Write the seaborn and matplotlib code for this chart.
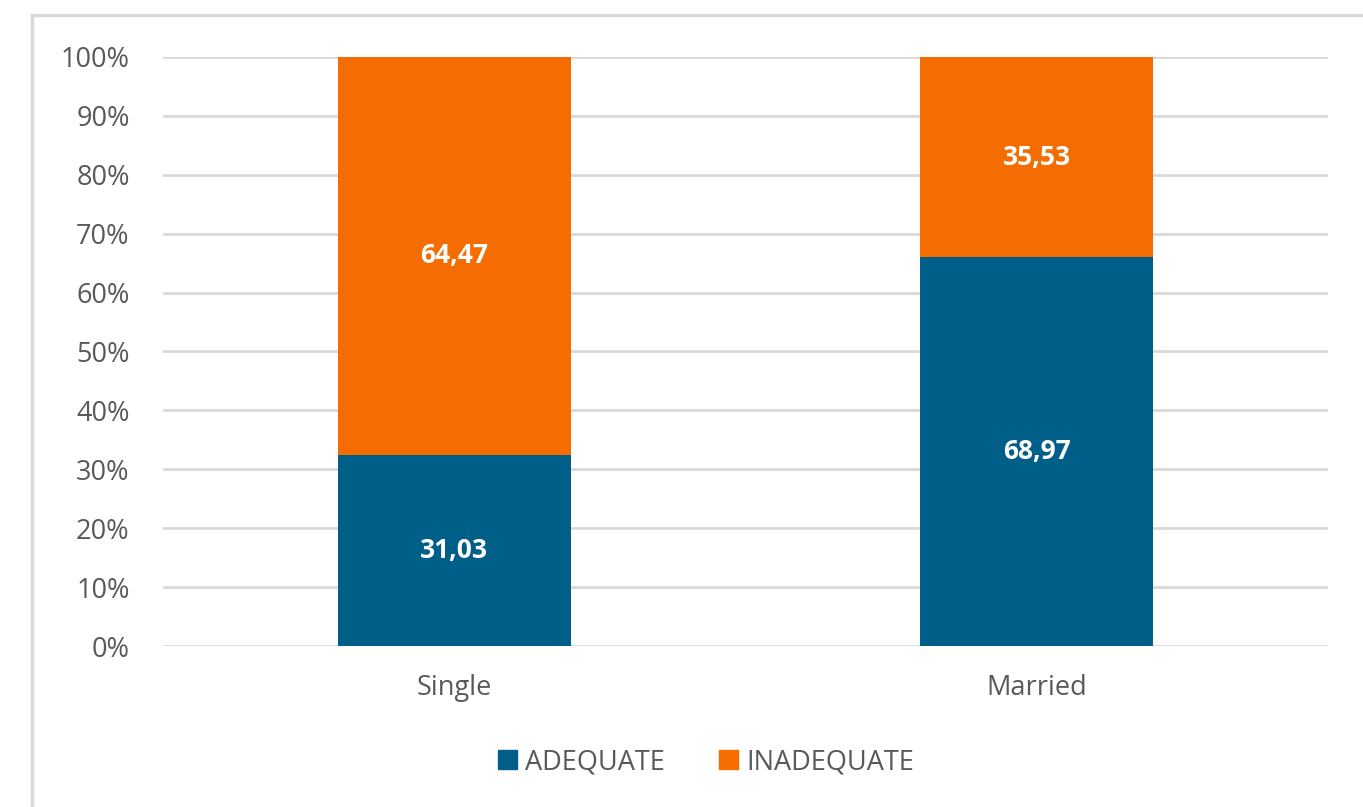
import matplotlib
matplotlib.use("Agg")
import matplotlib.pyplot as plt
import matplotlib.patches as mpatches
import pandas as pd
import seaborn as sns

# data (raw values, shown as 100% stacked)
groups = ["Single", "Married"]
adequate = [31.03, 68.97]
inadequate = [64.47, 35.53]
series_names = ["ADEQUATE", "INADEQUATE"]

blue = "#005F88"
orange = "#F56C00"
grey_txt = "#595959"
grid_col = "#D9D9D9"

df = pd.DataFrame({"group": groups, "adequate": adequate, "inadequate": inadequate})
df["total"] = df["adequate"] + df["inadequate"]
df["adeq_share"] = df["adequate"] / df["total"] * 100
df["full"] = 100.0

sns.set_theme(style="white")
plt.rcParams["font.family"] = ["Open Sans", "DejaVu Sans"]

fig = plt.figure(figsize=(13.63, 8.07), dpi=100)
ax = fig.add_axes([0.1196, 0.1995, 0.8548, 0.7299])

# outer chart frame (partly cropped in the reference)
fig.patches.append(mpatches.Rectangle((32 / 1363, -0.05), 1.1, 1 - 15 / 807 + 0.05,
                                      transform=fig.transFigure, fill=False,
                                      edgecolor=grid_col, linewidth=2.5, zorder=0))

sns.barplot(data=df, x="group", y="full", color=orange, width=0.4,
            saturation=1, ax=ax, zorder=3, edgecolor="none", linewidth=0)
sns.barplot(data=df, x="group", y="adeq_share", color=blue, width=0.4,
            saturation=1, ax=ax, zorder=3, edgecolor="none", linewidth=0)

# value labels
orange_bars = ax.containers[0]
blue_bars = ax.containers[1]
ax.bar_label(blue_bars, labels=[f"{v:.2f}".replace(".", ",") for v in adequate],
             label_type="center", color="white", fontsize=19, fontweight="bold")
for bar, share, v in zip(orange_bars, df["adeq_share"], inadequate):
    x = bar.get_x() + bar.get_width() / 2
    ax.text(x, (share + 100) / 2, f"{v:.2f}".replace(".", ","), ha="center", va="center",
            color="white", fontsize=19, fontweight="bold", zorder=5)

ax.set_xlim(-0.5, 1.5)
ax.set_ylim(0, 100)
ax.set_yticks(range(0, 101, 10))
ax.set_yticklabels([f"{t}%" for t in range(0, 101, 10)])
ax.yaxis.grid(True, color=grid_col, linewidth=2)
ax.set_axisbelow(True)
ax.tick_params(axis="y", colors=grey_txt, labelsize=19.5, length=0, pad=24)
ax.tick_params(axis="x", colors=grey_txt, labelsize=19.5, length=0, pad=20)
ax.set_xlabel("")
ax.set_ylabel("")
sns.despine(ax=ax, left=True, bottom=True)

handles = [mpatches.Patch(color=blue, label=series_names[0]),
           mpatches.Patch(color=orange, label=series_names[1])]
fig.legend(handles=handles, loc="center", bbox_to_anchor=(0.518, 1 - 762 / 807),
           ncol=2, frameon=False, fontsize=19.5, handlelength=0.7, handleheight=0.7,
           handletextpad=0.3, columnspacing=2.0, labelcolor=grey_txt)

fig.savefig("out.png", dpi=100)
